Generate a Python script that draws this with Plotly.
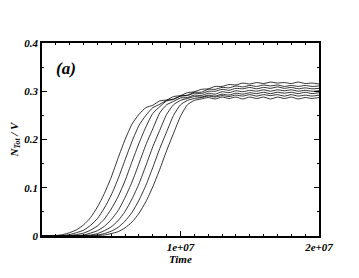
import plotly.graph_objects as go

# Time grid in units of 1e6
time_m = [0, 0.5, 1, 1.5, 2, 2.5, 3, 3.5, 4, 4.5, 5, 5.5, 6, 6.5, 7, 7.5, 8, 8.5, 9, 9.5,
          10, 10.5, 11, 11.5, 12, 12.5, 13, 13.5, 14, 14.5, 15, 15.5, 16, 16.5, 17, 17.5,
          18, 18.5, 19, 19.5, 20]

run1 = [0, 0, 0.001, 0.003, 0.007, 0.013, 0.023, 0.038, 0.060, 0.088, 0.122, 0.162, 0.200,
        0.232, 0.252, 0.266, 0.271, 0.280, 0.282, 0.289, 0.291, 0.297, 0.299, 0.304, 0.305,
        0.310, 0.310, 0.314, 0.313, 0.317, 0.315, 0.318, 0.316, 0.319, 0.317, 0.318, 0.316,
        0.319, 0.316, 0.317, 0.315]
run2 = [0, 0, 0, 0.001, 0.003, 0.007, 0.012, 0.022, 0.036, 0.058, 0.085, 0.119, 0.158, 0.196,
        0.229, 0.250, 0.266, 0.273, 0.281, 0.284, 0.290, 0.292, 0.298, 0.298, 0.304, 0.304,
        0.308, 0.307, 0.311, 0.309, 0.312, 0.310, 0.313, 0.311, 0.313, 0.310, 0.312, 0.310,
        0.312, 0.310, 0.311]
run3 = [0, 0, 0, 0, 0.001, 0.003, 0.006, 0.012, 0.021, 0.035, 0.056, 0.082, 0.115, 0.154,
        0.192, 0.226, 0.254, 0.268, 0.280, 0.283, 0.290, 0.291, 0.296, 0.295, 0.300, 0.300,
        0.304, 0.302, 0.306, 0.305, 0.308, 0.305, 0.308, 0.306, 0.309, 0.306, 0.308, 0.305,
        0.307, 0.305, 0.306]
run4 = [0, 0, 0, 0, 0, 0.001, 0.002, 0.006, 0.011, 0.020, 0.034, 0.053, 0.080, 0.112, 0.150,
        0.189, 0.222, 0.255, 0.272, 0.279, 0.286, 0.287, 0.292, 0.291, 0.296, 0.294, 0.299,
        0.297, 0.301, 0.299, 0.302, 0.300, 0.303, 0.300, 0.303, 0.301, 0.303, 0.300, 0.302,
        0.300, 0.301]
run5 = [0, 0, 0, 0, 0, 0, 0.001, 0.002, 0.005, 0.011, 0.019, 0.032, 0.051, 0.077, 0.108,
        0.146, 0.185, 0.219, 0.252, 0.272, 0.281, 0.285, 0.289, 0.288, 0.292, 0.290, 0.294,
        0.292, 0.296, 0.294, 0.297, 0.295, 0.298, 0.295, 0.298, 0.296, 0.298, 0.295, 0.298,
        0.295, 0.297]
run6 = [0, 0, 0, 0, 0, 0, 0, 0.001, 0.002, 0.005, 0.010, 0.018, 0.031, 0.049, 0.074, 0.105,
        0.142, 0.181, 0.216, 0.250, 0.272, 0.281, 0.285, 0.287, 0.290, 0.288, 0.291, 0.289,
        0.292, 0.290, 0.293, 0.290, 0.293, 0.291, 0.293, 0.290, 0.293, 0.290, 0.292, 0.290,
        0.292]
run7 = [0, 0, 0, 0, 0, 0, 0, 0, 0.001, 0.002, 0.005, 0.009, 0.017, 0.029, 0.047, 0.071,
        0.102, 0.138, 0.177, 0.213, 0.248, 0.272, 0.281, 0.284, 0.287, 0.284, 0.288, 0.285,
        0.288, 0.284, 0.288, 0.285, 0.288, 0.284, 0.288, 0.285, 0.288, 0.284, 0.287, 0.285,
        0.287]

runs = [run1, run2, run3, run4, run5, run6, run7]
x_tick_vals = [1e7, 2e7]
x_tick_text = ["1e+07", "2e+07"]
y_tick_vals = [0, 0.1, 0.2, 0.3, 0.4]
y_tick_text = ["0", "0.1", "0.2", "0.3", "0.4"]

FONT = "Liberation Serif"
times = [t * 1e6 for t in time_m]


def bi(s):
    return "<b><i>" + s + "</i></b>"


fig = go.Figure()
for r in runs:
    fig.add_trace(go.Scatter(x=times, y=r, mode="lines",
                             line=dict(color="black", width=0.8, shape="spline", smoothing=0.6),
                             showlegend=False, hoverinfo="skip"))

tickfont = dict(family=FONT, size=11, color="black")
fig.update_layout(
    width=343, height=262,
    margin=dict(l=34, r=32, t=35, b=34),
    paper_bgcolor="white", plot_bgcolor="white",
    showlegend=False,
    annotations=[dict(x=0.045, y=0.93, xref="paper", yref="paper", text=bi("(a)"),
                      showarrow=False, xanchor="left", yanchor="top",
                      font=dict(family=FONT, size=17, color="black")),
                 dict(x=0.5, y=-0.12, xref="paper", yref="paper", text=bi("Time"),
                      showarrow=False, xanchor="center", yanchor="middle",
                      font=dict(family=FONT, size=11, color="black"))],
)
fig.update_xaxes(range=[0, 2e7], tickmode="array", tickvals=x_tick_vals,
                 ticktext=[bi(t) for t in x_tick_text], automargin=False,
                 ticks="inside", ticklen=5, tickwidth=1, tickcolor="black",
                 minor=dict(tickmode="linear", tick0=0, dtick=1e6, ticks="inside", ticklen=2.5,
                            tickcolor="black", showgrid=False),
                 showline=True, linecolor="black", linewidth=1.5, mirror="allticks",
                 showgrid=False, zeroline=False, tickfont=tickfont)
fig.update_yaxes(range=[0, 0.4], tickmode="array", tickvals=y_tick_vals,
                 ticktext=[bi(t) for t in y_tick_text], automargin=False,
                 ticks="inside", ticklen=5, tickwidth=1, tickcolor="black",
                 minor=dict(tickmode="linear", tick0=0, dtick=0.05, ticks="inside", ticklen=2.5,
                            tickcolor="black", showgrid=False),
                 showline=True, linecolor="black", linewidth=1.5, mirror="allticks",
                 showgrid=False, zeroline=False, tickfont=tickfont,
                 title=dict(text=bi("N<sub>Tot</sub> / V"), standoff=8,
                            font=dict(family=FONT, size=11, color="black")))

fig.write_html("out.html")
